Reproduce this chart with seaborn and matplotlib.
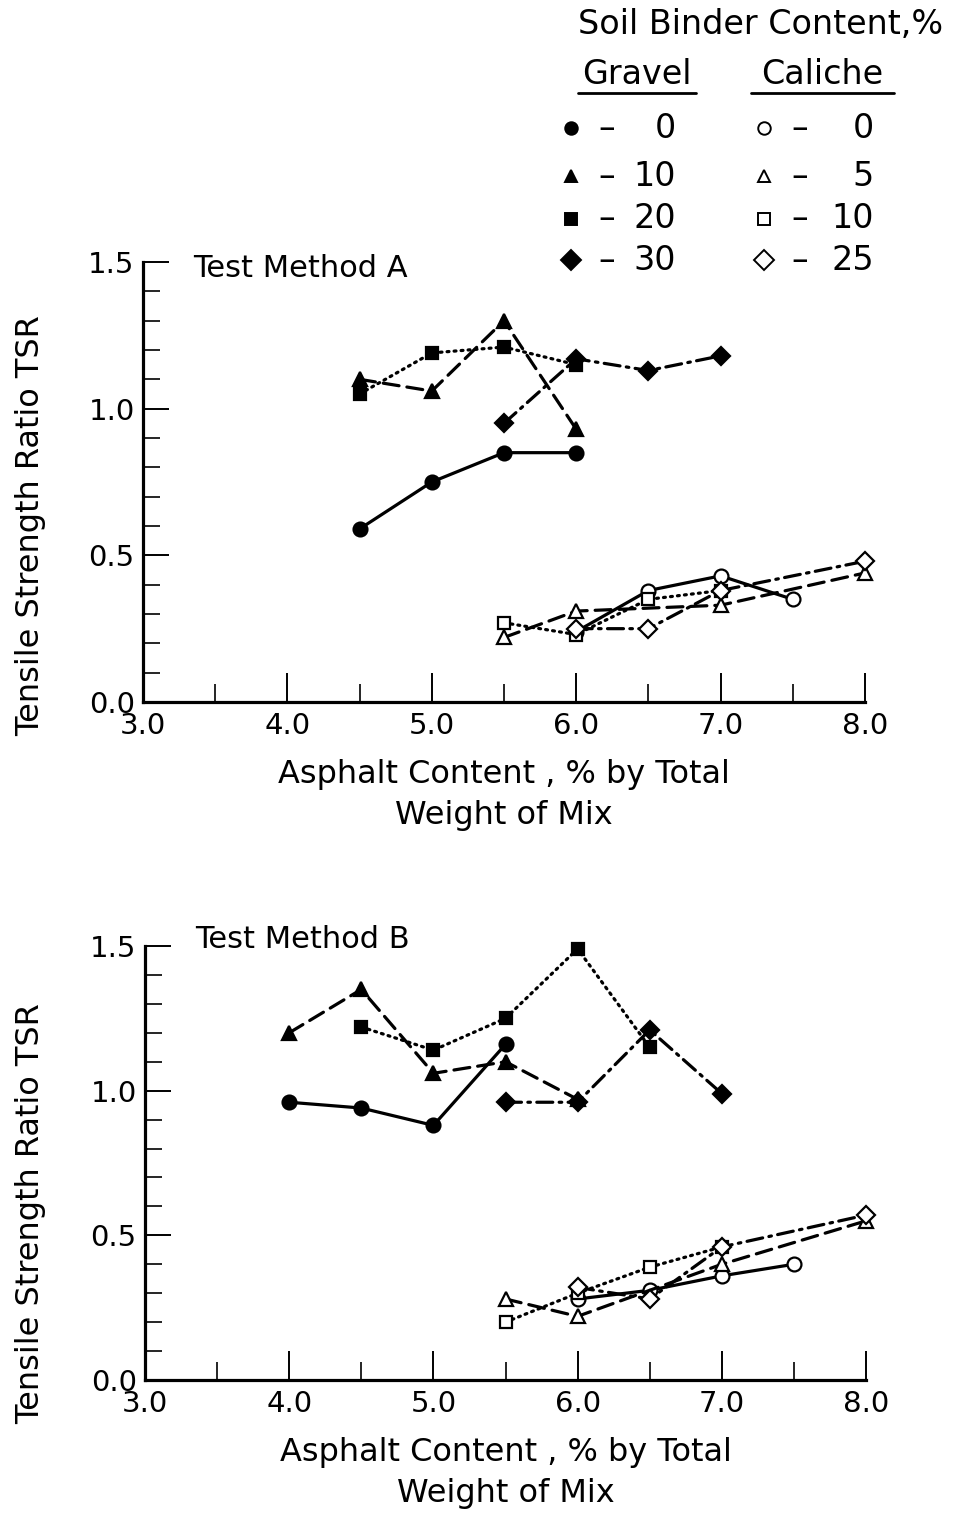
import matplotlib
matplotlib.use("Agg")
import matplotlib.pyplot as plt
import seaborn as sns
from matplotlib.lines import Line2D
from matplotlib.ticker import MultipleLocator, FormatStrFormatter

sns.set_style("ticks")
plt.rcParams['font.family'] = ['DejaVu Sans']
plt.rcParams.update({"text.color": "black", "axes.labelcolor": "black",
                     "xtick.color": "black", "ytick.color": "black",
                     "axes.edgecolor": "black"})

# ---- Test Method A ----
a_gravel0_x = [4.5, 5.0, 5.5, 6.0]
a_gravel0_y = [0.59, 0.75, 0.85, 0.85]
a_gravel10_x = [4.5, 5.0, 5.5, 6.0]
a_gravel10_y = [1.10, 1.06, 1.30, 0.93]
a_gravel20_x = [4.5, 5.0, 5.5, 6.0]
a_gravel20_y = [1.05, 1.19, 1.21, 1.15]
a_gravel30_x = [5.5, 6.0, 6.5, 7.0]
a_gravel30_y = [0.95, 1.17, 1.13, 1.18]
a_caliche0_x = [6.0, 6.5, 7.0, 7.5]
a_caliche0_y = [0.24, 0.38, 0.43, 0.35]
a_caliche5_x = [5.5, 6.0, 7.0, 8.0]
a_caliche5_y = [0.22, 0.31, 0.33, 0.44]
a_caliche10_x = [5.5, 6.0, 6.5, 7.0]
a_caliche10_y = [0.27, 0.23, 0.35, 0.38]
a_caliche25_x = [6.0, 6.5, 7.0, 8.0]
a_caliche25_y = [0.25, 0.25, 0.38, 0.48]

# ---- Test Method B ----
b_gravel0_x = [4.0, 4.5, 5.0, 5.5]
b_gravel0_y = [0.96, 0.94, 0.88, 1.16]
b_gravel10_x = [4.0, 4.5, 5.0, 5.5, 6.0]
b_gravel10_y = [1.20, 1.35, 1.06, 1.10, 0.97]
b_gravel20_x = [4.5, 5.0, 5.5, 6.0, 6.5]
b_gravel20_y = [1.22, 1.14, 1.25, 1.49, 1.15]
b_gravel30_x = [5.5, 6.0, 6.5, 7.0]
b_gravel30_y = [0.96, 0.96, 1.21, 0.99]
b_caliche0_x = [6.0, 6.5, 7.0, 7.5]
b_caliche0_y = [0.28, 0.31, 0.36, 0.40]
b_caliche5_x = [5.5, 6.0, 7.0, 8.0]
b_caliche5_y = [0.28, 0.22, 0.40, 0.55]
b_caliche10_x = [5.5, 6.0, 6.5, 7.0]
b_caliche10_y = [0.20, 0.30, 0.39, 0.46]
b_caliche25_x = [6.0, 6.5, 7.0, 8.0]
b_caliche25_y = [0.32, 0.28, 0.46, 0.57]

gravel_labels = ["0", "10", "20", "30"]
caliche_labels = ["0", "5", "10", "25"]

solid = "-"
dashed = (0, (5, 2.5))
dotted = (0, (0.6, 1.6))
dashdot = (0, (5, 2, 0.8, 2))

# marker, linestyle, filled
styles = {
    "g0": ("o", solid, True), "g10": ("^", dashed, True),
    "g20": ("s", dotted, True), "g30": ("D", dashdot, True),
    "c0": ("o", solid, False), "c5": ("^", dashed, False),
    "c10": ("s", dotted, False), "c25": ("D", dashdot, False),
}

W, H = 967, 1518
fig = plt.figure(figsize=(W / 100, H / 100), dpi=100)


def draw(ax, series, title, title_y):
    for key, xs, ys in series:
        m, ls, filled = styles[key]
        ms = 9 if m in ("s", "D") else 10
        sns.lineplot(x=xs, y=ys, ax=ax, sort=False, color="black", lw=2.3,
                     linestyle=ls, dash_capstyle="round", marker=m, markersize=ms,
                     markerfacecolor="black" if filled else "white",
                     markeredgecolor="black", markeredgewidth=1.6,
                     clip_on=False, zorder=4 if filled else 3)
    ax.set_xlim(3, 8)
    ax.set_ylim(0, 1.5)
    ax.xaxis.set_major_locator(MultipleLocator(1.0))
    ax.xaxis.set_minor_locator(MultipleLocator(0.5))
    ax.yaxis.set_major_locator(MultipleLocator(0.5))
    ax.yaxis.set_minor_locator(MultipleLocator(0.1))
    ax.xaxis.set_major_formatter(FormatStrFormatter("%.1f"))
    ax.yaxis.set_major_formatter(FormatStrFormatter("%.1f"))
    ax.tick_params(axis="x", which="major", direction="in", length=21, width=1.4,
                   labelsize=21, pad=7)
    ax.tick_params(axis="x", which="minor", direction="in", length=13, width=1.2)
    ax.tick_params(axis="y", which="major", direction="in", length=19, width=1.4,
                   labelsize=21, pad=6)
    ax.tick_params(axis="y", which="minor", direction="in", length=12, width=1.2)
    sns.despine(ax=ax)
    for s in ("left", "bottom"):
        ax.spines[s].set_linewidth(2.3)
    ax.set_xlabel("Asphalt Content , % by Total\nWeight of Mix", fontsize=23,
                  linespacing=1.4, labelpad=14)
    ax.set_ylabel("Tensile Strength Ratio TSR", fontsize=23)
    ax.text(0.069, title_y, title, transform=ax.transAxes, va="center",
            ha="left", fontsize=22)


ax_a = fig.add_axes([143 / W, 1 - 702 / H, 722 / W, 440 / H])
draw(ax_a, [("g0", a_gravel0_x, a_gravel0_y), ("g10", a_gravel10_x, a_gravel10_y),
            ("g20", a_gravel20_x, a_gravel20_y), ("g30", a_gravel30_x, a_gravel30_y),
            ("c0", a_caliche0_x, a_caliche0_y), ("c5", a_caliche5_x, a_caliche5_y),
            ("c10", a_caliche10_x, a_caliche10_y), ("c25", a_caliche25_x, a_caliche25_y)],
     "Test Method A", 0.985)
ax_a.yaxis.set_label_coords(-0.134, 0.40)

ax_b = fig.add_axes([145 / W, 1 - 1380 / H, 721 / W, 434 / H])
draw(ax_b, [("g0", b_gravel0_x, b_gravel0_y), ("g10", b_gravel10_x, b_gravel10_y),
            ("g20", b_gravel20_x, b_gravel20_y), ("g30", b_gravel30_x, b_gravel30_y),
            ("c0", b_caliche0_x, b_caliche0_y), ("c5", b_caliche5_x, b_caliche5_y),
            ("c10", b_caliche10_x, b_caliche10_y), ("c25", b_caliche25_x, b_caliche25_y)],
     "Test Method B", 1.015)
ax_b.yaxis.set_label_coords(-0.137, 0.383)

# ---- legend block (top right) ----
def fx(px):
    return px / W


def fy(py):
    return 1 - py / H


fig.text(fx(761), fy(25), "Soil Binder Content,%", fontsize=24, ha="center", va="center")
fig.text(fx(637), fy(74), "Gravel", fontsize=24, ha="center", va="center")
fig.text(fx(822), fy(74), "Caliche", fontsize=24, ha="center", va="center")
fig.add_artist(Line2D([fx(578), fx(696)], [fy(93), fy(93)], color="black", lw=2))
fig.add_artist(Line2D([fx(751), fx(894)], [fy(93), fy(93)], color="black", lw=2))

row_y = [128, 176, 219, 260]
for i, (gk, ck) in enumerate(zip(["g0", "g10", "g20", "g30"], ["c0", "c5", "c10", "c25"])):
    y = fy(row_y[i])
    for key, mx, dx, nx, lab in [(gk, 571, 607, 676, gravel_labels[i]),
                                 (ck, 764, 800, 874, caliche_labels[i])]:
        m, _, filled = styles[key]
        fig.add_artist(Line2D([fx(mx)], [y], marker=m, markersize=9 if m != "D" else 10,
                              color="black", markerfacecolor="black" if filled else "white",
                              markeredgewidth=1.4, linestyle="none"))
        fig.text(fx(dx), y, "\u2013", fontsize=24, ha="center", va="center")
        fig.text(fx(nx), y, lab, fontsize=24, ha="right", va="center")

fig.savefig("out.png", dpi=100)
